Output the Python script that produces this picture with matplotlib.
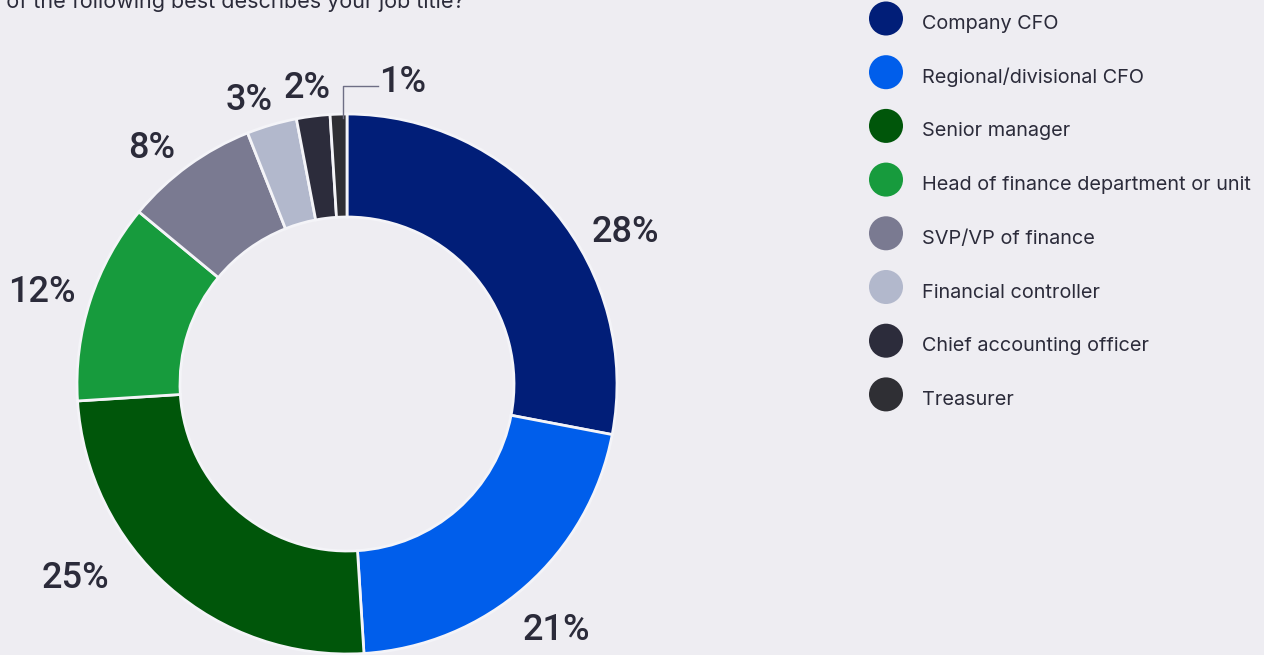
import matplotlib.pyplot as plt

# Survey answers, share of respondents (%)
roles = [
    "Company CFO",
    "Regional/divisional CFO",
    "Senior manager",
    "Head of finance department or unit",
    "SVP/VP of finance",
    "Financial controller",
    "Chief accounting officer",
    "Treasurer",
]
shares = [28, 21, 25, 12, 8, 3, 2, 1]
colors = ["#011E78", "#005EEB", "#00560A", "#179B3D",
          "#7A7A91", "#B2B8CC", "#2C2C3B", "#2F2F34"]

# where each percentage label sits (pixel coords, y from top)
label_pos = [(625, 232), (556, 631), (75, 578), (42, 292),
             (152, 149), (249, 101), (307, 88), (403, 82)]

BG = "#EEEDF2"
TEXT = "#2B2B3A"
W, H = 1264, 655

plt.rcParams["font.family"] = ["Inter", "DejaVu Sans"]

fig = plt.figure(figsize=(W / 100, H / 100), dpi=100, facecolor=BG)
ax = fig.add_axes([0, 0, 1, 1])
ax.set_facecolor(BG)

def py(y):
    return H - y

cx, cy, r = 347, py(384), 270
ax.pie(shares, colors=colors, center=(cx, cy), radius=r,
       startangle=90, counterclock=False,
       wedgeprops=dict(width=103, edgecolor="#F4F4F8", linewidth=2))
ax.set_xlim(0, W)
ax.set_ylim(0, H)
ax.set_aspect("equal")
ax.axis("off")

for val, (x, y) in zip(shares, label_pos):
    ax.text(x, py(y), f"{val}%", ha="center", va="center",
            fontsize=26, fontweight=500, family=["Roboto", "DejaVu Sans"],
            color=TEXT)

# leader line for the smallest slice
ax.plot([343, 343, 378], [py(118), py(86), py(86)], color="#6E6E85", lw=1)

# legend
for i, (name, c) in enumerate(zip(roles, colors)):
    y = 18.5 + i * 53.7
    ax.scatter([886], [py(y)], s=600, color=c, edgecolors="none")
    ax.text(922, py(y + 10.5), name, ha="left", va="baseline",
            fontsize=14.3, color=TEXT)

# question text, partly off the top-left edge
ax.text(465, py(8), "Which of the following best describes your job title?",
        ha="right", va="baseline", fontsize=15.5, color=TEXT)

fig.savefig("out.png", dpi=100, facecolor=BG)
